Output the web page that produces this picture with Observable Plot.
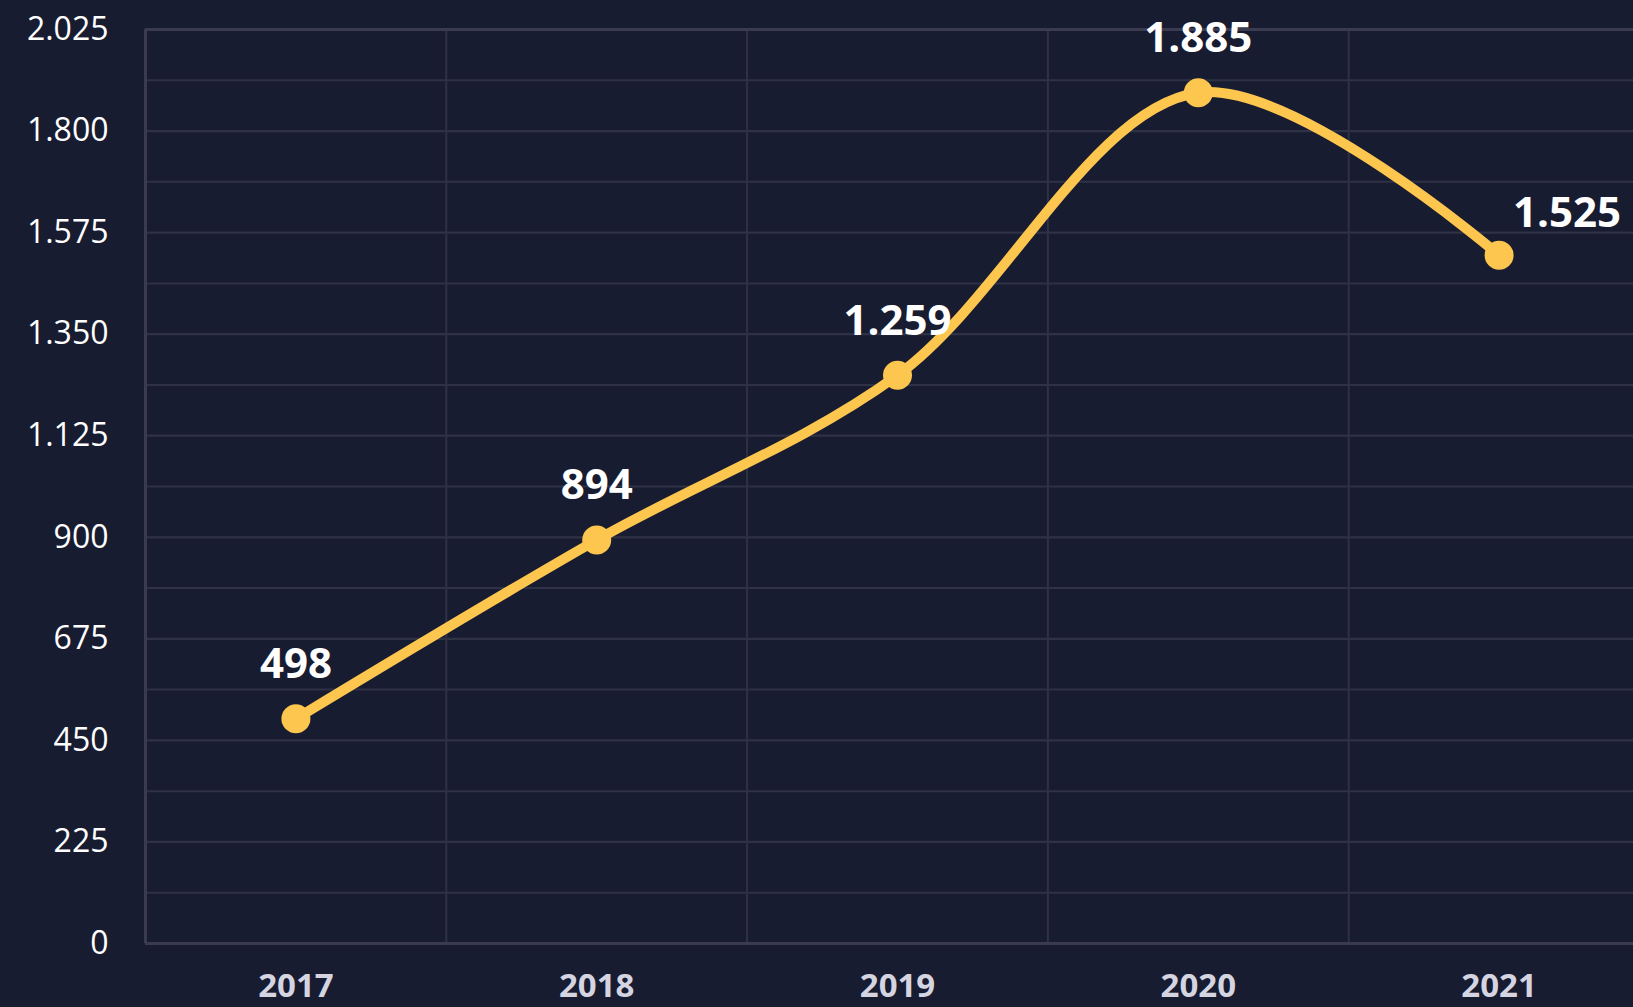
<!DOCTYPE html>
<html>
<head>
<meta charset="utf-8">
<script src="https://cdn.jsdelivr.net/npm/d3@7"></script>
<script src="https://cdn.jsdelivr.net/npm/@observablehq/plot@0.6"></script>
<style>
  html, body { margin: 0; padding: 0; background: #181c30; overflow: hidden; }
  #chart svg { display: block; max-width: none !important; }
</style>
</head>
<body>
<div id="chart"></div>
<script>
// ---- data ----
const years = [2017, 2018, 2019, 2020, 2021];
const values = [498, 894, 1259, 1885, 1525];
const yTicks = [0, 225, 450, 675, 900, 1125, 1350, 1575, 1800, 2025];

const data = years.map((year, i) => ({year, value: values[i]}));
const locale = d3.formatLocale({decimal: ",", thousands: ".", grouping: [3], currency: ["", "€"]});
const fmt = locale.format(",");

const bounds = years.map(y => y - 0.5).concat([years[years.length - 1] + 0.5]);
const minorTicks = yTicks.slice(0, -1).map((t, i) => (t + yTicks[i + 1]) / 2);

const lineColor = "#fdc64f";
const gridColor = "#2f3145";
const frameColor = "#3a3b50";
const font = "'Open Sans', 'Noto Sans', sans-serif";

const lastYear = years[years.length - 1];

const chart = Plot.plot({
  width: 1660,
  height: 1007,
  marginLeft: 145,
  marginRight: 11,
  marginTop: 29,
  marginBottom: 64,
  style: {background: "#181c30", fontFamily: font, overflow: "visible"},
  x: {type: "linear", domain: [bounds[0], bounds[bounds.length - 1]]},
  y: {domain: [0, 2025]},
  marks: [
    Plot.ruleY(minorTicks, {stroke: gridColor, strokeWidth: 2}),
    Plot.ruleY(yTicks.slice(1, -1), {stroke: gridColor, strokeWidth: 2.2}),
    Plot.ruleX(bounds.slice(1), {stroke: gridColor, strokeWidth: 2}),
    Plot.ruleY([yTicks[yTicks.length - 1]], {stroke: frameColor, strokeWidth: 3}),
    Plot.ruleY([0], {stroke: frameColor, strokeWidth: 3}),
    Plot.ruleX([bounds[0]], {stroke: frameColor, strokeWidth: 3}),
    Plot.axisY({ticks: yTicks, tickSize: 0, tickPadding: 37, tickFormat: fmt,
      fontSize: 32, fill: "#ffffff", label: null}),
    Plot.axisX({ticks: years, tickSize: 0, tickPadding: 30, tickFormat: d => String(d),
      fontSize: 33, fontWeight: "bold", fill: "#d5d5e1", label: null}),
    Plot.line(data, {x: "year", y: "value", stroke: lineColor, strokeWidth: 10,
      curve: "catmull-rom", strokeLinecap: "round"}),
    Plot.dot(data, {x: "year", y: "value", r: 14.5, fill: lineColor, stroke: null}),
    Plot.text(data.filter(d => d.year !== lastYear), {x: "year", y: "value", text: d => fmt(d.value),
      dy: -54, fontSize: 42, fontWeight: "bold", fill: "#ffffff", lineAnchor: "middle"}),
    Plot.text(data.filter(d => d.year === lastYear), {x: "year", y: "value", text: d => fmt(d.value),
      dx: 14, dy: -42, textAnchor: "start", fontSize: 42, fontWeight: "bold", fill: "#ffffff", lineAnchor: "middle"})
  ]
});
chart.style.maxWidth = "none";
chart.style.width = "1660px";
chart.style.height = "1007px";
document.getElementById("chart").append(chart);
</script>
</body>
</html>
